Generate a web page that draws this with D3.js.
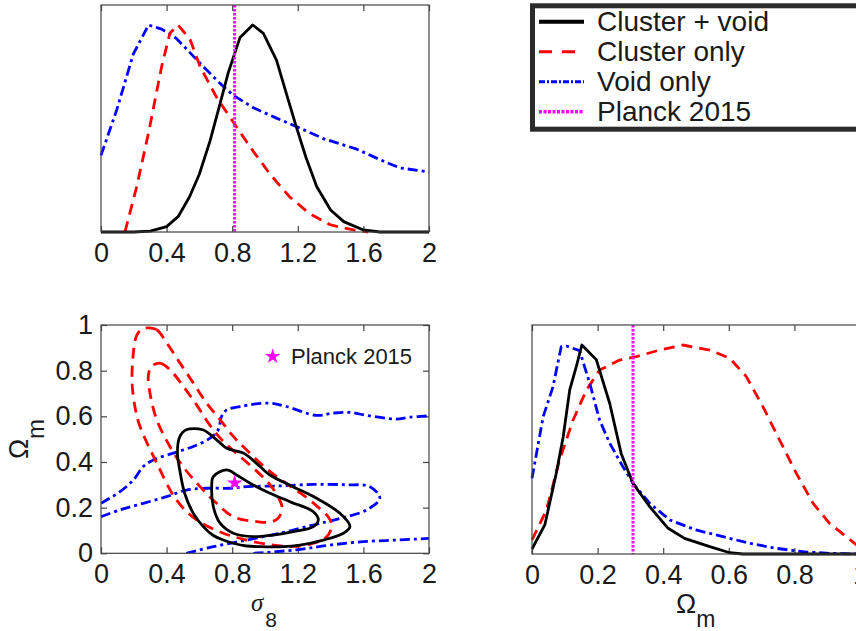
<!DOCTYPE html>
<html><head><meta charset="utf-8">
<script src="https://cdn.jsdelivr.net/npm/d3@7"></script>
<style>
body{margin:0;background:#fff;}
svg{display:block;}
text{font-family:"Liberation Sans",Arial,Helvetica,sans-serif;fill:#1a1a1a;}
</style>
</head><body>
<svg id="c" width="856" height="631"></svg>
<script>
// ---------- DATA ----------
// 1D posterior of sigma8
const s8BlackX = [0, 0.2, 0.3, 0.4, 0.47, 0.54, 0.60, 0.665, 0.726, 0.776, 0.848, 0.925, 0.99, 1.07, 1.13, 1.19, 1.25, 1.315, 1.40, 1.48, 1.60, 1.70, 2.0];
const s8BlackY = [0, 0, 0.004, 0.026, 0.074, 0.17, 0.28, 0.44, 0.62, 0.77, 0.94, 1.0, 0.96, 0.83, 0.67, 0.51, 0.36, 0.22, 0.106, 0.05, 0.01, 0, 0];
const s8RedX = [0.146, 0.218, 0.29, 0.37, 0.42, 0.47, 0.543, 0.604, 0.705, 0.807, 0.91, 1.03, 1.15, 1.27, 1.40, 1.54, 1.63];
const s8RedY = [0, 0.22, 0.48, 0.80, 0.96, 1.0, 0.93, 0.80, 0.65, 0.53, 0.41, 0.28, 0.17, 0.09, 0.034, 0.01, 0];
const s8BlueX = [0, 0.096, 0.197, 0.29, 0.37, 0.46, 0.604, 0.726, 0.807, 0.93, 1.07, 1.19, 1.36, 1.56, 1.70, 1.82, 2.0];
const s8BlueY = [0.37, 0.59, 0.86, 1.0, 0.98, 0.935, 0.815, 0.718, 0.66, 0.60, 0.55, 0.51, 0.45, 0.40, 0.35, 0.31, 0.29];

// 1D posterior of Omega_m
const omBlackX = [0, 0.039, 0.074, 0.095, 0.115, 0.135, 0.152, 0.196, 0.237, 0.272, 0.308, 0.359, 0.415, 0.465, 0.542, 0.603, 0.643, 1.0];
const omBlackY = [0.024, 0.139, 0.386, 0.56, 0.785, 0.896, 1.0, 0.93, 0.72, 0.48, 0.338, 0.226, 0.123, 0.075, 0.035, 0.006, 0, 0];
const omRedX = [0, 0.044, 0.084, 0.125, 0.166, 0.206, 0.267, 0.318, 0.389, 0.46, 0.542, 0.603, 0.653, 0.704, 0.755, 0.806, 0.857, 0.907, 0.958, 1.0];
const omRedY = [0.067, 0.21, 0.45, 0.64, 0.785, 0.88, 0.928, 0.944, 0.976, 1.0, 0.976, 0.936, 0.85, 0.705, 0.545, 0.386, 0.242, 0.147, 0.083, 0.03];
const omBlueX = [0, 0.034, 0.064, 0.089, 0.105, 0.145, 0.176, 0.206, 0.237, 0.277, 0.308, 0.359, 0.42, 0.50, 0.582, 0.664, 0.745, 0.826, 0.907, 1.0];
const omBlueY = [0.362, 0.657, 0.80, 0.992, 0.995, 0.973, 0.817, 0.641, 0.53, 0.418, 0.338, 0.242, 0.163, 0.115, 0.083, 0.051, 0.027, 0.011, 0.003, 0];

// Planck 2015 values
const planckS8 = 0.815;
const planckOm = 0.308;

// 2D contours [sigma8, Omega_m]
const redOuter = [[0.279,0.987],[0.340,0.979],[0.401,0.921],[0.482,0.833],[0.563,0.746],[0.644,0.658],[0.726,0.585],[0.807,0.512],[0.888,0.453],[1.010,0.370],[1.132,0.305],[1.254,0.244],[1.335,0.195],[1.385,0.16],[1.406,0.124],[1.38,0.075],[1.30,0.045],[1.17,0.03],[1.03,0.038],[0.888,0.058],[0.746,0.088],[0.583,0.146],[0.46,0.234],[0.34,0.395],[0.238,0.555],[0.21,0.63],[0.19,0.74],[0.195,0.86],[0.215,0.95],[0.245,0.98]];
const redInner = [[0.309,0.819],[0.360,0.833],[0.421,0.804],[0.502,0.731],[0.583,0.650],[0.665,0.560],[0.746,0.490],[0.848,0.424],[0.949,0.360],[1.031,0.300],[1.085,0.240],[1.105,0.195],[1.075,0.150],[1.02,0.136],[0.95,0.139],[0.807,0.16],[0.705,0.219],[0.604,0.292],[0.50,0.38],[0.42,0.468],[0.34,0.585],[0.299,0.70],[0.289,0.780]];
const blackOuter = [[0.48,0.51],[0.52,0.541],[0.62,0.541],[0.705,0.497],[0.766,0.46],[0.868,0.439],[0.97,0.38],[1.03,0.343],[1.17,0.292],[1.315,0.241],[1.457,0.175],[1.518,0.117],[1.478,0.088],[1.356,0.058],[1.213,0.036],[1.11,0.029],[0.97,0.029],[0.888,0.032],[0.807,0.044],[0.746,0.058],[0.685,0.078],[0.624,0.117],[0.563,0.175],[0.51,0.263],[0.48,0.365],[0.466,0.44]];
const blackInner = [[0.685,0.336],[0.766,0.365],[0.827,0.343],[0.909,0.307],[1.01,0.27],[1.152,0.226],[1.295,0.182],[1.325,0.146],[1.295,0.117],[1.173,0.095],[1.05,0.08],[0.929,0.073],[0.807,0.088],[0.726,0.132],[0.685,0.204],[0.675,0.292]];
const blueOuterUpper = [[0,0.219],[0.116,0.27],[0.197,0.321],[0.258,0.38],[0.319,0.409],[0.441,0.439],[0.563,0.468],[0.665,0.504],[0.715,0.541],[0.735,0.60],[0.766,0.628],[0.848,0.643],[1.03,0.658],[1.13,0.643],[1.315,0.604],[1.417,0.614],[1.518,0.617],[1.62,0.604],[1.80,0.588],[1.88,0.596],[2.0,0.602]];
const blueOuterLower = [[0.93,0],[1.19,0.015],[1.396,0.036],[1.6,0.051],[1.80,0.058],[2.0,0.065]];
const blueInner = [[0,0.16],[0.116,0.19],[0.258,0.219],[0.40,0.248],[0.52,0.277],[0.645,0.285],[0.787,0.285],[0.888,0.292],[1.09,0.295],[1.295,0.302],[1.498,0.30],[1.64,0.292],[1.70,0.241],[1.62,0.19],[1.457,0.153],[1.295,0.124],[1.09,0.088],[0.888,0.058],[0.685,0.029],[0.52,0]];

// ticks and labels
const s8Ticks = [0, 0.4, 0.8, 1.2, 1.6, 2];
const omTicks = [0, 0.2, 0.4, 0.6, 0.8, 1];
const legendLabels = ["Cluster + void", "Cluster only", "Void only", "Planck 2015"];
const starLabel = "Planck 2015";

// ---------- STYLES ----------
const ST = {
  black: {c:"#000000", d:null, w:2.8},
  red: {c:"#ff0000", d:"11,7", w:2.8},
  blue: {c:"#0000ff", d:"10,4,3,4", w:2.8},
  mag: {c:"#ff00ff", d:"2.5,1.5", w:3}
};
const frameCol = "#444";
const tickFs = 27;

const svg = d3.select("#c");

// scales
const xS8 = d3.scaleLinear([0, 2], [101, 429]);
const yP1 = d3.scaleLinear([0, 1], [232, 25]);
const yOm = d3.scaleLinear([0, 1], [553.3, 325]);
const xOm = d3.scaleLinear([0, 1], [532, 860]);
const yP2 = d3.scaleLinear([0, 1], [554, 345]);

function styleAxis(g) {
  g.select(".domain").remove();
  g.selectAll(".tick line").attr("stroke", frameCol).attr("stroke-width", 1.2);
  g.selectAll(".tick text").attr("font-size", tickFs).attr("fill", "#1a1a1a")
    .attr("font-family", '"Liberation Sans",Arial,sans-serif');
  g.attr("font-family", null).attr("font-size", null);
}
const fmt = d3.format("");

function frame(x0, y0, x1, y1) {
  svg.append("rect").attr("x", x0).attr("y", y0).attr("width", x1 - x0).attr("height", y1 - y0)
    .attr("fill", "none").attr("stroke", frameCol).attr("stroke-width", 1.2);
}
function drawPath(data, xs, ys, st) {
  const gen = d3.line().x(d => xs(d[0])).y(d => ys(d[1]));
  svg.append("path").attr("d", gen(data)).attr("fill", "none")
    .attr("stroke", st.c).attr("stroke-width", st.w)
    .attr("stroke-dasharray", st.d).attr("stroke-linejoin", "round");
}

// ===== Panel 1: sigma8 1D =====
const p1Top = 5, p1Bot = 232;
svg.append("g").attr("transform", `translate(0,${p1Bot})`)
  .call(d3.axisBottom(xS8).tickValues(s8Ticks).tickFormat(fmt).tickSizeInner(-6).tickSizeOuter(0).tickPadding(11))
  .call(styleAxis);
svg.append("g").attr("transform", `translate(0,${p1Top})`)
  .call(d3.axisTop(xS8).tickValues(s8Ticks).tickFormat("").tickSizeInner(-6).tickSizeOuter(0))
  .call(styleAxis);
drawPath(d3.zip(s8BlueX, s8BlueY), xS8, yP1, ST.blue);
drawPath(d3.zip(s8RedX, s8RedY), xS8, yP1, ST.red);
drawPath(d3.zip(s8BlackX, s8BlackY), xS8, yP1, ST.black);
svg.append("line").attr("x1", xS8(planckS8)).attr("x2", xS8(planckS8)).attr("y1", p1Top).attr("y2", p1Bot)
  .attr("stroke", ST.mag.c).attr("stroke-width", ST.mag.w).attr("stroke-dasharray", ST.mag.d);
frame(xS8(0), p1Top, xS8(2), p1Bot);

// ===== Legend (top right) =====
const lg = svg.append("g");
lg.append("rect").attr("x", 532.5).attr("y", 5.8).attr("width", 400).attr("height", 123.4)
  .attr("fill", "#fff").attr("stroke", "#2b2b2b").attr("stroke-width", 5);
const legStyles = [
  {c:"#000", d:null, w:4},
  {c:"#ff0000", d:"13,10", w:3},
  {c:"#0000ff", d:"6,2,2,2", w:3},
  {c:"#ff00ff", d:"3,1.5", w:3.5}
];
legendLabels.forEach((lab, i) => {
  const yy = 21.7 + 30 * i;
  lg.append("line").attr("x1", 539).attr("x2", 584).attr("y1", yy).attr("y2", yy)
    .attr("stroke", legStyles[i].c).attr("stroke-width", legStyles[i].w).attr("stroke-dasharray", legStyles[i].d);
  lg.append("text").attr("x", 597).attr("y", yy + 9.5).attr("font-size", 28).text(lab);
});

// ===== Panel 3: 2D contours =====
const p3Top = 325, p3Bot = 553.3;
svg.append("g").attr("transform", `translate(0,${p3Bot})`)
  .call(d3.axisBottom(xS8).tickValues(s8Ticks).tickFormat(fmt).tickSizeInner(-6).tickSizeOuter(0).tickPadding(11))
  .call(styleAxis);
svg.append("g").attr("transform", `translate(0,${p3Top})`)
  .call(d3.axisTop(xS8).tickValues(s8Ticks).tickFormat("").tickSizeInner(-6).tickSizeOuter(0))
  .call(styleAxis);
svg.append("g").attr("transform", `translate(${xS8(0)},0)`)
  .call(d3.axisLeft(yOm).tickValues(omTicks).tickFormat(fmt).tickSizeInner(-6).tickSizeOuter(0).tickPadding(8))
  .call(styleAxis);
svg.append("g").attr("transform", `translate(${xS8(2)},0)`)
  .call(d3.axisRight(yOm).tickValues(omTicks).tickFormat("").tickSizeInner(-6).tickSizeOuter(0))
  .call(styleAxis);

svg.append("clipPath").attr("id", "cl3").append("rect")
  .attr("x", xS8(0)).attr("y", p3Top).attr("width", xS8(2) - xS8(0)).attr("height", p3Bot - p3Top);
const cg = svg.append("g").attr("clip-path", "url(#cl3)");
function cpath(data, st, closed) {
  const gen = d3.line().x(d => xS8(d[0])).y(d => yOm(d[1]))
    .curve(closed ? d3.curveCatmullRomClosed.alpha(0.5) : d3.curveCatmullRom.alpha(0.5));
  cg.append("path").attr("d", gen(data)).attr("fill", "none")
    .attr("stroke", st.c).attr("stroke-width", st.w).attr("stroke-dasharray", st.d)
    .attr("stroke-linejoin", "round");
}
cpath(blueOuterUpper, ST.blue, false);
cpath(blueOuterLower, ST.blue, false);
cpath(blueInner, ST.blue, false);
cpath(redOuter, ST.red, true);
cpath(redInner, ST.red, true);
cpath(blackOuter, ST.black, true);
cpath(blackInner, ST.black, true);
const star = d3.symbol(d3.symbolStar).size(75);
svg.append("path").attr("d", star()).attr("transform", `translate(${xS8(planckS8)},${yOm(planckOm)})`)
  .attr("fill", ST.mag.c);
svg.append("path").attr("d", star()).attr("transform", `translate(272.7,356.5)`).attr("fill", ST.mag.c);
svg.append("text").attr("x", 291).attr("y", 364).attr("font-size", 22).text(starLabel);
frame(xS8(0), p3Top, xS8(2), p3Bot);

// axis labels panel 3
const xl = svg.append("text").attr("x", 251).attr("y", 611);
xl.append("tspan").attr("font-family", '"Liberation Serif","DejaVu Serif",serif').attr("font-style", "italic").attr("font-size", 25).text("σ");
xl.append("tspan").attr("font-size", 21).attr("dy", 16).attr("dx", 2).text("8");
const yl = svg.append("text").attr("transform", "translate(28,439) rotate(-90)").attr("text-anchor", "middle");
yl.append("tspan").attr("font-size", 27).text("Ω");
yl.append("tspan").attr("font-size", 24).attr("dy", 16).text("m");

// ===== Panel 4: Omega_m 1D =====
const p4Top = 325, p4Bot = 554;
svg.append("g").attr("transform", `translate(0,${p4Bot})`)
  .call(d3.axisBottom(xOm).tickValues(omTicks).tickFormat(fmt).tickSizeInner(-6).tickSizeOuter(0).tickPadding(11))
  .call(styleAxis);
svg.append("g").attr("transform", `translate(0,${p4Top})`)
  .call(d3.axisTop(xOm).tickValues(omTicks).tickFormat("").tickSizeInner(-6).tickSizeOuter(0))
  .call(styleAxis);
drawPath(d3.zip(omRedX, omRedY), xOm, yP2, ST.red);
drawPath(d3.zip(omBlueX, omBlueY), xOm, yP2, ST.blue);
drawPath(d3.zip(omBlackX, omBlackY), xOm, yP2, ST.black);
svg.append("line").attr("x1", xOm(planckOm)).attr("x2", xOm(planckOm)).attr("y1", p4Top).attr("y2", p4Bot)
  .attr("stroke", ST.mag.c).attr("stroke-width", ST.mag.w).attr("stroke-dasharray", ST.mag.d);
frame(xOm(0), p4Top, xOm(1), p4Bot);
const xl4 = svg.append("text").attr("x", 676).attr("y", 613);
xl4.append("tspan").attr("font-size", 27).text("Ω");
xl4.append("tspan").attr("font-size", 23).attr("dy", 14).text("m");
</script>
</body></html>
